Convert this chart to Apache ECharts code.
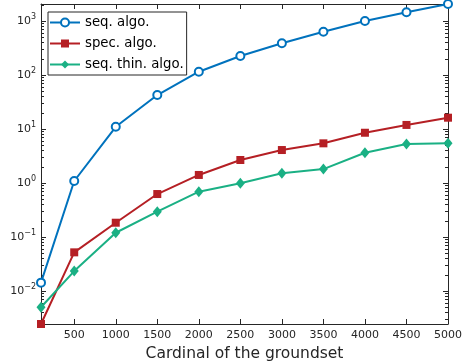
<!DOCTYPE html>
<html>
<head>
<meta charset="utf-8">
<script src="https://cdn.jsdelivr.net/npm/echarts@6/dist/echarts.min.js"></script>
<style>
  html, body { margin: 0; padding: 0; background: #fff; }
  #main { width: 462px; height: 364px; }
</style>
</head>
<body>
<div id="main"></div>
<script>
// 横轴：集合大小
const cardinals = [100, 500, 1000, 1500, 2000, 2500, 3000, 3500, 4000, 4500, 5000];
// 三种算法的运行时间（秒）
const seqAlgo = [0.0143, 1.09, 11, 42.6, 115, 225, 386, 634, 1000, 1450, 2065];
const specAlgo = [0.00245, 0.052, 0.184, 0.625, 1.41, 2.67, 4.08, 5.43, 8.53, 11.9, 16.2];
const seqThinAlgo = [0.005, 0.0234, 0.12, 0.294, 0.69, 0.986, 1.51, 1.81, 3.64, 5.27, 5.43];
const legendNames = ["seq. algo.", "spec. algo.", "seq. thin. algo."];

// 刻度
const xTicks = [500, 1000, 1500, 2000, 2500, 3000, 3500, 4000, 4500, 5000];
const yTicks = [0.01, 0.1, 1, 10, 100, 1000];
const yMinorTicks = [
  0.003, 0.004, 0.005, 0.006, 0.007, 0.008, 0.009,
  0.02, 0.03, 0.04, 0.05, 0.06, 0.07, 0.08, 0.09,
  0.2, 0.3, 0.4, 0.5, 0.6, 0.7, 0.8, 0.9,
  2, 3, 4, 5, 6, 7, 8, 9,
  20, 30, 40, 50, 60, 70, 80, 90,
  200, 300, 400, 500, 600, 700, 800, 900, 2000
];
const yMin = 0.00245;
const yMax = 2065;

const myChart = echarts.init(document.getElementById("main"));
const axisColor = "#262626";
const font = "DejaVu Sans";

function expLabel(v) {
  const e = Math.round(Math.log10(v));
  return "10{e|" + (e < 0 ? "\u2212" + -e : e) + "}";
}

const yBase = {
  type: "log",
  logBase: 10,
  min: yMin,
  max: yMax,
  splitLine: { show: false },
  axisLine: { show: true, lineStyle: { color: axisColor, width: 1 } },
};

const option = {
  backgroundColor: "#fff",
  animation: false,
  grid: { left: 41, right: 14, top: 4, bottom: 40, containLabel: false, outerBoundsMode: "none" },
  legend: {
    orient: "vertical",
    left: 48,
    top: 12,
    padding: [4, 3, 4, 1],
    itemGap: 8,
    itemWidth: 30,
    itemHeight: 10,
    borderColor: axisColor,
    borderWidth: 1,
    backgroundColor: "#fff",
    data: legendNames,
    textStyle: { fontFamily: font, fontSize: 13.3, color: "#000" },
  },
  xAxis: [
    {
      type: "value",
      min: 100,
      max: 5000,
      position: "bottom",
      splitLine: { show: false },
      axisLine: { lineStyle: { color: axisColor, width: 1 } },
      axisTick: { inside: true, length: 5, customValues: xTicks, lineStyle: { color: axisColor } },
      axisLabel: {
        customValues: xTicks,
        margin: 6,
        formatter: (v) => String(v),
        fontFamily: font,
        fontSize: 11,
        color: axisColor,
      },
      name: "Cardinal of the groundset",
      nameLocation: "middle",
      nameGap: 22,
      nameTextStyle: { fontFamily: font, fontSize: 15.5, color: axisColor },
    },
    {
      type: "value",
      min: 100,
      max: 5000,
      position: "top",
      splitLine: { show: false },
      axisLine: { lineStyle: { color: axisColor, width: 1 } },
      axisTick: { inside: true, length: 5, customValues: xTicks, lineStyle: { color: axisColor } },
      axisLabel: { show: false },
    },
  ],
  yAxis: [
    Object.assign({}, yBase, {
      position: "left",
      axisTick: { inside: true, length: 5, customValues: yTicks, lineStyle: { color: axisColor } },
      axisLabel: {
        customValues: yTicks,
        margin: 5,
        formatter: expLabel,
        fontFamily: font,
        fontSize: 11,
        color: axisColor,
        rich: {
          e: { fontFamily: font, fontSize: 8, color: axisColor, verticalAlign: "bottom", padding: [0, 0, 8, 0] },
        },
      },
      name: "Time (sec)",
      nameLocation: "middle",
      nameGap: 29,
      nameTextStyle: { fontFamily: font, fontSize: 15.5, color: axisColor },
    }),
    Object.assign({}, yBase, {
      position: "right",
      axisTick: { inside: true, length: 5, customValues: yTicks, lineStyle: { color: axisColor } },
      axisLabel: { show: false },
    }),
    Object.assign({}, yBase, {
      position: "left",
      axisLine: { show: false },
      axisTick: { inside: true, length: 3, customValues: yMinorTicks, lineStyle: { color: axisColor } },
      axisLabel: { show: false },
    }),
    Object.assign({}, yBase, {
      position: "right",
      axisLine: { show: false },
      axisTick: { inside: true, length: 3, customValues: yMinorTicks, lineStyle: { color: axisColor } },
      axisLabel: { show: false },
    }),
  ],
  series: [
    {
      name: legendNames[0],
      type: "line",
      data: cardinals.map((c, i) => [c, seqAlgo[i]]),
      symbol: "emptyCircle",
      symbolSize: 8,
      color: "#0072BD",
      lineStyle: { width: 2 },
      itemStyle: { borderWidth: 2, color: "#0072BD" },
    },
    {
      name: legendNames[1],
      type: "line",
      data: cardinals.map((c, i) => [c, specAlgo[i]]),
      symbol: "rect",
      symbolSize: 8,
      color: "#B51F24",
      lineStyle: { width: 2 },
    },
    {
      name: legendNames[2],
      type: "line",
      data: cardinals.map((c, i) => [c, seqThinAlgo[i]]),
      symbol: "diamond",
      symbolSize: [9, 11],
      color: "#1AB084",
      lineStyle: { width: 2 },
    },
  ],
};

myChart.setOption(option);
</script>
</body>
</html>
